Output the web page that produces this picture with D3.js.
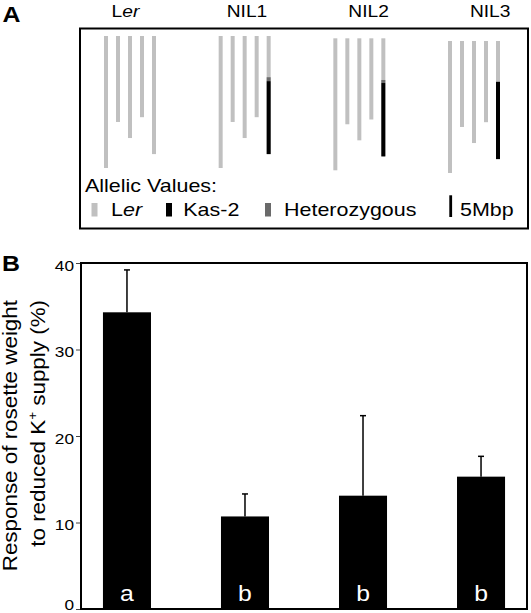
<!DOCTYPE html>
<html><head><meta charset="utf-8">
<script src="https://cdn.jsdelivr.net/npm/d3@7"></script>
<style>html,body{margin:0;padding:0;background:#fff;}svg{display:block;}</style>
</head><body>
<script>
// ---------- DATA ----------
const lines = ["Ler", "NIL1", "NIL2", "NIL3"];
const chromosomes = [1, 2, 3, 4, 5];
const chrLengthMbp = [30.4, 19.8, 23.5, 18.7, 27.2];
// introgressed segments on chromosome 5 (Mbp from top)
const segLine   = ["NIL1", "NIL1", "NIL2", "NIL2", "NIL3"];
const segChr    = [5, 5, 5, 5, 5];
const segStart  = [9.5, 10.4, 9.6, 10.3, 9.4];
const segEnd    = [10.4, 27.2, 10.3, 27.2, 27.2];
const segAllele = ["het", "kas", "het", "kas", "kas"];
const legendLabels = ["Ler", "Kas-2", "Heterozygous"];
const legendKeys = ["ler", "kas", "het"];
const scaleBarMbp = 5;

const response = [34.3, 10.7, 13.1, 15.3];
const responseErr = [4.9, 2.6, 9.25, 2.35];
const sigLetters = ["a", "b", "b", "b"];
const yTicks = [0, 10, 20, 30, 40];

// ---------- STYLE / LAYOUT ----------
const W = 531, H = 613;
const FONT = "'Liberation Sans', Arial, Helvetica, sans-serif";
const SX = 1.13;
const alleleColor = {ler: "#c0c0c0", kas: "#000000", het: "#6a6a6a"};

const svg = d3.select("body").append("svg").attr("width", W).attr("height", H);
svg.append("rect").attr("width", W).attr("height", H).attr("fill", "#fff");

function stext(parent, x, y, size, opts = {}) {
  const t = parent.append("text")
    .attr("transform", `translate(${x},${y})${opts.rotate ? " rotate(-90)" : ""} scale(${opts.sx || SX},1)`)
    .attr("font-family", FONT).attr("font-size", size)
    .attr("text-anchor", opts.anchor || "start")
    .attr("fill", opts.fill || "#000");
  if (opts.weight) t.attr("font-weight", opts.weight);
  return t;
}
function lerLabel(t) {
  t.append("tspan").text("L");
  t.append("tspan").attr("font-style", "italic").text("er");
}

// ================= PANEL A =================
const gA = svg.append("g");
stext(gA, 2.5, 22, 22, {weight: "bold"}).text("A");
gA.append("rect").attr("x", 80).attr("y", 28.5).attr("width", 448).attr("height", 200)
  .attr("fill", "none").attr("stroke", "#000").attr("stroke-width", 2);

const groupX = d3.scalePoint().domain(lines).range([130, 474]);
const titleX = d3.scalePoint().domain(lines).range([125.4, 490.2]);
const chrX = d3.scalePoint().domain(chromosomes).range([-24, 24]);
const groupTop = d3.scaleOrdinal().domain(lines).range([36, 36, 38.3, 41]);
const mbp = d3.scaleLinear().domain([0, 30.4]).range([0, 132]);
const chrW = 4;

lines.forEach(l => {
  const t = stext(gA, titleX(l), 16.5, 17, {anchor: "middle"});
  if (l === "Ler") lerLabel(t); else t.text(l);
});

const chrData = [];
lines.forEach(l => chromosomes.forEach((c, i) => chrData.push({line: l, chr: c, len: chrLengthMbp[i]})));
gA.selectAll("rect.chr").data(chrData).join("rect").attr("class", "chr")
  .attr("x", d => groupX(d.line) + chrX(d.chr) - chrW / 2)
  .attr("y", d => groupTop(d.line))
  .attr("width", chrW)
  .attr("height", d => mbp(d.len))
  .attr("fill", alleleColor.ler);

const segData = segLine.map((l, i) => ({line: l, chr: segChr[i], s: segStart[i], e: segEnd[i], a: segAllele[i]}));
gA.selectAll("rect.seg").data(segData).join("rect").attr("class", "seg")
  .attr("x", d => groupX(d.line) + chrX(d.chr) - chrW / 2)
  .attr("y", d => groupTop(d.line) + mbp(d.s))
  .attr("width", chrW)
  .attr("height", d => mbp(d.e) - mbp(d.s))
  .attr("fill", d => alleleColor[d.a]);

// legend
stext(gA, 85, 191.7, 19).text("Allelic Values:");
const swX = [91.5, 166, 265], txX = [111, 183.3, 284];
legendLabels.forEach((lab, i) => {
  gA.append("rect").attr("x", swX[i]).attr("y", 203).attr("width", 6).attr("height", 13.5)
    .attr("fill", alleleColor[legendKeys[i]]);
  const t = stext(gA, txX[i], 216, 19);
  if (lab === "Ler") lerLabel(t); else t.text(lab);
});
gA.append("rect").attr("x", 449.3).attr("y", 217 - mbp(scaleBarMbp)).attr("width", 2.8)
  .attr("height", mbp(scaleBarMbp)).attr("fill", "#000");
stext(gA, 460, 216, 19).text(scaleBarMbp + "Mbp");

// ================= PANEL B =================
const gB = svg.append("g");
stext(gB, 2, 271, 22, {weight: "bold"}).text("B");
const pLeft = 81, pRight = 527, pTop = 263, pBottom = 609;
const x = d3.scaleBand().domain(lines).range([pLeft, pRight]).paddingInner(0.593).paddingOuter(0.186);
const y = d3.scaleLinear().domain([0, 40]).range([pBottom, pTop]);

const axis = gB.append("g").attr("transform", `translate(${pLeft},0)`)
  .call(d3.axisLeft(y).tickValues(yTicks).tickSize(5).tickPadding(3));
axis.select(".domain").remove();
axis.selectAll(".tick line").attr("stroke", "#444").attr("stroke-width", 1);
axis.selectAll(".tick text").attr("x", null).attr("dy", "0.35em")
  .attr("transform", d => `translate(-7,${d === 0 ? -5 : 2}) scale(1.15,1)`)
  .attr("font-family", FONT).attr("font-size", 15).attr("fill", "#000");

const barData = lines.map((l, i) => ({line: l, v: response[i], e: responseErr[i], s: sigLetters[i]}));
gB.selectAll("rect.bar").data(barData).join("rect").attr("class", "bar")
  .attr("x", d => x(d.line)).attr("width", x.bandwidth())
  .attr("y", d => y(d.v)).attr("height", d => y(0) - y(d.v))
  .attr("fill", "#000");
gB.selectAll("line.err").data(barData).join("line").attr("class", "err")
  .attr("x1", d => x(d.line) + x.bandwidth() / 2).attr("x2", d => x(d.line) + x.bandwidth() / 2)
  .attr("y1", d => y(d.v)).attr("y2", d => y(d.v + d.e))
  .attr("stroke", "#000").attr("stroke-width", 1.5);
gB.selectAll("line.cap").data(barData).join("line").attr("class", "cap")
  .attr("x1", d => x(d.line) + x.bandwidth() / 2 - 3).attr("x2", d => x(d.line) + x.bandwidth() / 2 + 3)
  .attr("y1", d => y(d.v + d.e)).attr("y2", d => y(d.v + d.e))
  .attr("stroke", "#000").attr("stroke-width", 1.5);
barData.forEach(d => {
  stext(gB, x(d.line) + x.bandwidth() / 2, 601, 22.5, {anchor: "middle", fill: "#fff", sx: 1.1}).text(d.s);
});

gB.append("rect").attr("x", pLeft).attr("y", pTop).attr("width", pRight - pLeft).attr("height", pBottom - pTop)
  .attr("fill", "none").attr("stroke", "#000").attr("stroke-width", 2);

// y title
stext(gB, 17, 300, 20, {rotate: true, anchor: "end", sx: 1.12}).text("Response of rosette weight");
const t2 = stext(gB, 45, 300, 20, {rotate: true, anchor: "end", sx: 1.12});
t2.append("tspan").text("to reduced K");
t2.append("tspan").attr("font-size", 12).attr("dy", -8).text("+");
t2.append("tspan").attr("dy", 8).text(" supply (%)");
</script>
</body></html>
